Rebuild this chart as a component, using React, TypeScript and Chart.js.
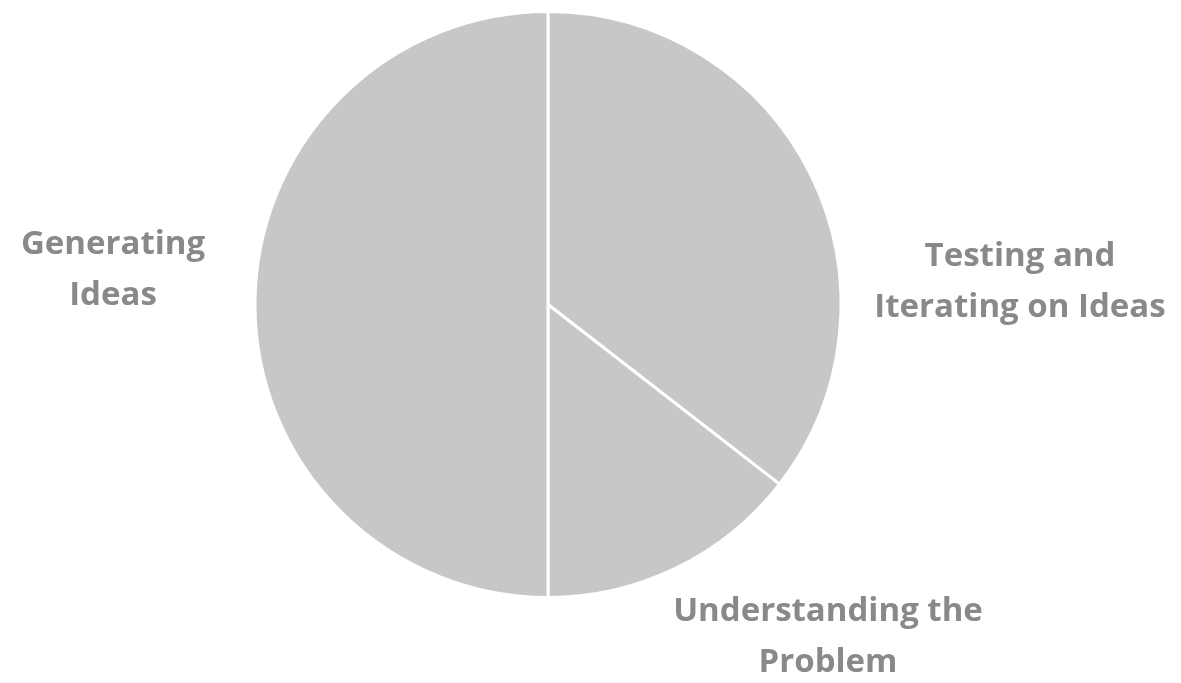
import React, { useEffect, useRef } from "react";
import { Chart, registerables } from "chart.js";

Chart.register(...registerables);

const categories = ["Testing and Iterating on Ideas", "Understanding the Problem", "Generating Ideas"];
const shares = [35.5, 14.5, 50];
const labelLines = [["Testing and", "Iterating on Ideas"], ["Understanding the", "Problem"], ["Generating", "Ideas"]];
// label anchor offsets relative to pie centre (layout only)
const labelOffsets = [[472, -22], [280, 333], [-435, -34]];

const labelPlugin = {
  id: "outerLabels",
  afterDraw(chart: any) {
    const meta = chart.getDatasetMeta(0);
    const arc = meta.data[0];
    if (!arc) return;
    const cx = arc.x;
    const cy = arc.y;
    const ctx = chart.ctx;
    ctx.save();
    ctx.font = 'bold 33px "Open Sans"';
    ctx.fillStyle = "#89898b";
    ctx.textAlign = "center";
    ctx.textBaseline = "middle";
    const lh = 51;
    labelLines.forEach((lines, i) => {
      const [ox, oy] = labelOffsets[i];
      const y0 = cy + oy - ((lines.length - 1) * lh) / 2;
      lines.forEach((t, j) => ctx.fillText(t, cx + ox, y0 + j * lh));
    });
    ctx.restore();
  },
};

export default function App() {
  const ref = useRef<HTMLCanvasElement>(null);
  useEffect(() => {
    document.body.style.margin = "0";
    const chart = new Chart(ref.current!, {
      type: "pie",
      data: {
        labels: categories,
        datasets: [
          {
            data: shares,
            backgroundColor: "#c7c7c9",
            borderColor: "#ffffff",
            borderWidth: 3,
          },
        ],
      },
      options: {
        animation: false,
        responsive: false,
        layout: { padding: { left: 0, right: 85, top: 10, bottom: 84 } },
        plugins: { legend: { display: false }, tooltip: { enabled: false } },
      },
      plugins: [labelPlugin],
    });
    return () => chart.destroy();
  }, []);
  return (
    <div style={{ width: 1181, height: 683, background: "#fff" }}>
      <canvas ref={ref} width={1181} height={683} style={{ display: "block" }} />
    </div>
  );
}
